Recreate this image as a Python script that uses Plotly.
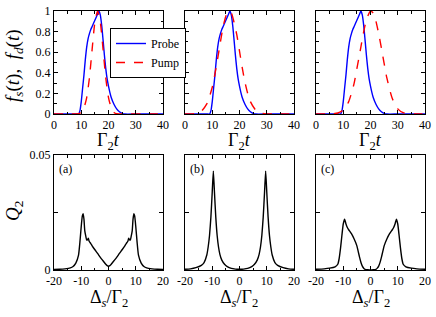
import plotly.graph_objects as go

# ---------------- data ----------------
t_probe = [0, 5, 8, 9, 9.5, 10, 10.5, 11, 11.5, 12, 12.5, 13, 13.5, 14, 15, 16, 16.5, 17, 17.5, 18,
           18.5, 19, 19.5, 20, 20.5, 21, 22, 23, 24, 25, 26, 30, 40]
f_probe = [0, 0, 0, 0.0, 0.03, 0.12, 0.25, 0.38, 0.53, 0.65, 0.73, 0.78, 0.82, 0.85, 0.91, 0.97, 1.0, 0.96, 0.86, 0.72,
           0.57, 0.44, 0.34, 0.27, 0.21, 0.16, 0.095, 0.05, 0.022, 0.007, 0.0, 0, 0]

t_pump = [0, 2, 4, 6, 8, 9, 10, 11, 12, 13, 14, 15, 16, 17, 18, 19, 20, 21, 22, 23, 24, 26, 28, 30, 32, 34, 36, 40]
f_pump_a = [0, 0, 0, 0, 0, 0.002, 0.015, 0.06, 0.16, 0.35, 0.63, 0.89, 1.0, 0.89, 0.63, 0.35, 0.16, 0.06, 0.015,
            0.002, 0, 0, 0, 0, 0, 0, 0, 0]
f_pump_b = [0.0001, 0.001, 0.006, 0.027, 0.098, 0.17, 0.26, 0.39, 0.54, 0.70, 0.85, 0.95, 1.0, 0.98, 0.89, 0.77,
            0.61, 0.45, 0.31, 0.20, 0.12, 0.036, 0.008, 0.001, 0, 0, 0, 0]
f_pump_c = [0, 0, 0, 0.002, 0.01, 0.02, 0.039, 0.07, 0.12, 0.2, 0.30, 0.44, 0.58, 0.73, 0.86, 0.95, 1.0, 0.98, 0.90,
            0.78, 0.64, 0.35, 0.15, 0.05, 0.013, 0.003, 0, 0]

d_a = [-20, -18, -16, -14, -13, -12, -11, -10.5, -10, -9.6, -9.3, -9, -8.7, -8.3, -8, -7.7, -7.4, -7.1, -6.5,
       -6, -5, -4, -3, -2, -1, -0.5, 0,
       0.5, 1, 2, 3, 4, 5, 6, 6.5, 7.1, 7.4, 7.7, 8, 8.3, 8.7, 9, 9.3, 9.6, 10, 10.5, 11, 12, 13, 14, 16, 18, 20]
q_a = [0.0002, 0.0003, 0.0005, 0.0009, 0.0015, 0.003, 0.0065, 0.012, 0.019, 0.0235, 0.0245, 0.022, 0.017, 0.0145,
       0.013, 0.0132, 0.0138, 0.0125, 0.0115, 0.0105, 0.0088, 0.0072, 0.0055, 0.004, 0.0025, 0.0019, 0.0017,
       0.0019, 0.0025, 0.004, 0.0055, 0.0072, 0.0088, 0.0105, 0.0115, 0.0125, 0.0138, 0.0132, 0.013, 0.0145,
       0.017, 0.022, 0.0245, 0.0235, 0.019, 0.012, 0.0065, 0.003, 0.0015, 0.0009, 0.0005, 0.0003, 0.0002]

d_b = [-20, -18, -16, -14, -13, -12, -11.5, -11, -10.5, -10, -9.6, -9.2, -8.7, -8.2, -7.7, -7.2, -6.5, -5.5, -4.5,
       -3, -1.5, 0,
       1.5, 3, 4.5, 5.5, 6.5, 7.2, 7.7, 8.2, 8.7, 9.2, 9.6, 10, 10.5, 11, 11.5, 12, 13, 14, 16, 18, 20]
q_b = [0.0003, 0.0005, 0.001, 0.002, 0.0032, 0.0065, 0.01, 0.015, 0.023, 0.034, 0.043, 0.034, 0.023, 0.015, 0.01,
       0.0068, 0.0043, 0.0025, 0.0015, 0.0007, 0.0004, 0.0003,
       0.0004, 0.0007, 0.0015, 0.0025, 0.0043, 0.0068, 0.01, 0.015, 0.023, 0.034, 0.043, 0.034, 0.023, 0.015,
       0.01, 0.0065, 0.0032, 0.002, 0.001, 0.0005, 0.0003]

d_c = [-20, -17, -15, -13, -12, -11.5, -11, -10.5, -10, -9.5, -9, -8.5, -8, -7, -6, -5, -4.5, -4, -3.5, -3, -2.5,
       -2, -1, 0,
       1, 2, 2.5, 3, 3.5, 4, 4.5, 5, 6, 7, 8, 8.5, 9, 9.5, 10, 10.5, 11, 11.5, 12, 13, 15, 17, 20]
q_c = [0.0003, 0.0005, 0.0008, 0.0014, 0.0025, 0.005, 0.0095, 0.015, 0.02, 0.0221, 0.02, 0.0185, 0.0175, 0.0158,
       0.0135, 0.0105, 0.008, 0.0055, 0.0033, 0.0017, 0.0008, 0.0003, 0.0001, 0.0,
       0.0001, 0.0003, 0.0008, 0.0017, 0.0033, 0.0055, 0.008, 0.0105, 0.0135, 0.0158, 0.0175, 0.0185, 0.02, 0.0221,
       0.02, 0.015, 0.0095, 0.005, 0.0025, 0.0014, 0.0008, 0.0005, 0.0003]

panel_labels = ["(a)", "(b)", "(c)"]
det_tickvals = [-20, -10, 0, 10, 20]
det_ticktext = ["-20", "-10", "0", "10", "20"]
q_tickvals = [0, 0.025, 0.05]
q_ticktext = ["0", " ", "0.05"]

# ---------------- layout ----------------
W, H = 436, 317
FONT = "Liberation Serif"
xpix = [(54, 163), (185, 294), (316, 425)]
top_pix = (11, 114)
bot_pix = (155, 270)


def xd(p):
    return [p[0] / W, p[1] / W]


def yd(p):
    return [(H - p[1]) / H, (H - p[0]) / H]


fig = go.Figure()

blue = "#0000ff"
red = "#ff0000"
pumps = [f_pump_a, f_pump_b, f_pump_c]
qs = [(d_a, q_a), (d_b, q_b), (d_c, q_c)]

for i in range(3):
    xa = "x" if i == 0 else f"x{i + 1}"
    ya = "y" if i == 0 else f"y{i + 1}"
    fig.add_trace(go.Scatter(x=t_probe, y=f_probe, mode="lines", xaxis=xa, yaxis=ya,
                             line=dict(color=blue, width=1.4, shape="spline", smoothing=0.6),
                             name="Probe", showlegend=(i == 0)))
    fig.add_trace(go.Scatter(x=t_pump, y=pumps[i], mode="lines", xaxis=xa, yaxis=ya,
                             line=dict(color=red, width=1.4, dash="dash", shape="spline", smoothing=0.6),
                             name="Pump", showlegend=(i == 0)))

for i in range(3):
    xa = f"x{i + 4}"
    ya = f"y{i + 4}"
    fig.add_trace(go.Scatter(x=qs[i][0], y=qs[i][1], mode="lines", xaxis=xa, yaxis=ya,
                             line=dict(color="black", width=1.4, shape="spline", smoothing=0.5),
                             showlegend=False))

axis_common = dict(showline=True, linecolor="black", linewidth=1, mirror="allticks", ticks="inside",
                   tickcolor="black", showgrid=False, zeroline=False, automargin=False,
                   tickfont=dict(family=FONT, size=12, color="black"))

layout = dict(template="none", width=W, height=H, margin=dict(l=0, r=0, t=0, b=0, autoexpand=False),
              plot_bgcolor="white", paper_bgcolor="white",
              font=dict(family=FONT, color="black"))

for i in range(3):
    kx = "xaxis" if i == 0 else f"xaxis{i + 1}"
    ky = "yaxis" if i == 0 else f"yaxis{i + 1}"
    anchor_y = "y" if i == 0 else f"y{i + 1}"
    anchor_x = "x" if i == 0 else f"x{i + 1}"
    layout[kx] = dict(axis_common, domain=xd(xpix[i]), anchor=anchor_y, range=[0, 40], dtick=10, tick0=0,
                      ticklen=4, minor=dict(dtick=5, ticklen=2.5, ticks="inside", tickcolor="black"))
    layout[ky] = dict(axis_common, domain=yd(top_pix), anchor=anchor_x, range=[0, 1], dtick=0.2, tick0=0,
                      ticklen=4, showticklabels=(i == 0),
                      minor=dict(dtick=0.1, ticklen=2.5, ticks="inside", tickcolor="black"))
    kx = f"xaxis{i + 4}"
    ky = f"yaxis{i + 4}"
    layout[kx] = dict(axis_common, domain=xd(xpix[i]), anchor=f"y{i + 4}", range=[-20, 20],
                      tickvals=det_tickvals, ticktext=det_ticktext, ticklen=4,
                      minor=dict(dtick=5, tick0=0, ticklen=2.5, ticks="inside", tickcolor="black"))
    layout[ky] = dict(axis_common, domain=yd(bot_pix), anchor=f"x{i + 4}", range=[0, 0.05],
                      tickvals=q_tickvals, ticktext=q_ticktext, ticklen=4,
                      showticklabels=(i == 0))

layout["legend"] = dict(x=110 / W, y=(H - 28) / H, xanchor="left", yanchor="top",
                        bgcolor="white", bordercolor="black", borderwidth=1,
                        font=dict(family=FONT, size=12, color="black"),
                        tracegroupgap=0, itemwidth=30)

fig.update_layout(**layout)

ann = []
for i in range(3):
    cx = (xpix[i][0] + xpix[i][1]) / 2 / W
    ann.append(dict(x=cx, y=(H - 141) / H, xref="paper", yref="paper", showarrow=False,
                    xanchor="center", yanchor="middle",
                    text="Γ<sub>2</sub><i>t</i>", font=dict(family=FONT, size=18, color="black")))
    ann.append(dict(x=cx, y=(H - 298) / H, xref="paper", yref="paper", showarrow=False,
                    xanchor="center", yanchor="middle",
                    text="Δ<sub><i>s</i></sub>/Γ<sub>2</sub>", font=dict(family=FONT, size=18, color="black")))
    ann.append(dict(x=(xpix[i][0] + 3) / W, y=(H - 160) / H, xref="paper", yref="paper", showarrow=False,
                    xanchor="left", yanchor="top", text=panel_labels[i],
                    font=dict(family=FONT, size=12, color="black")))

ann.append(dict(x=14 / W, y=(H - 66) / H, xref="paper", yref="paper", showarrow=False, textangle=-90,
                xanchor="center", yanchor="middle",
                text="<i>f<sub>s</sub></i>(<i>t</i>),  <i>f<sub>d</sub></i>(<i>t</i>)",
                font=dict(family=FONT, size=19, color="black")))
ann.append(dict(x=14 / W, y=(H - 211) / H, xref="paper", yref="paper", showarrow=False, textangle=-90,
                xanchor="center", yanchor="middle",
                text="<i>Q</i><sub>2</sub>", font=dict(family=FONT, size=19, color="black")))
fig.update_layout(annotations=ann)

fig.write_html("out.html", config={"displayModeBar": False},
               post_script="document.body.style.margin='0';document.body.style.padding='0';"
                           "document.documentElement.style.overflow='hidden';")
